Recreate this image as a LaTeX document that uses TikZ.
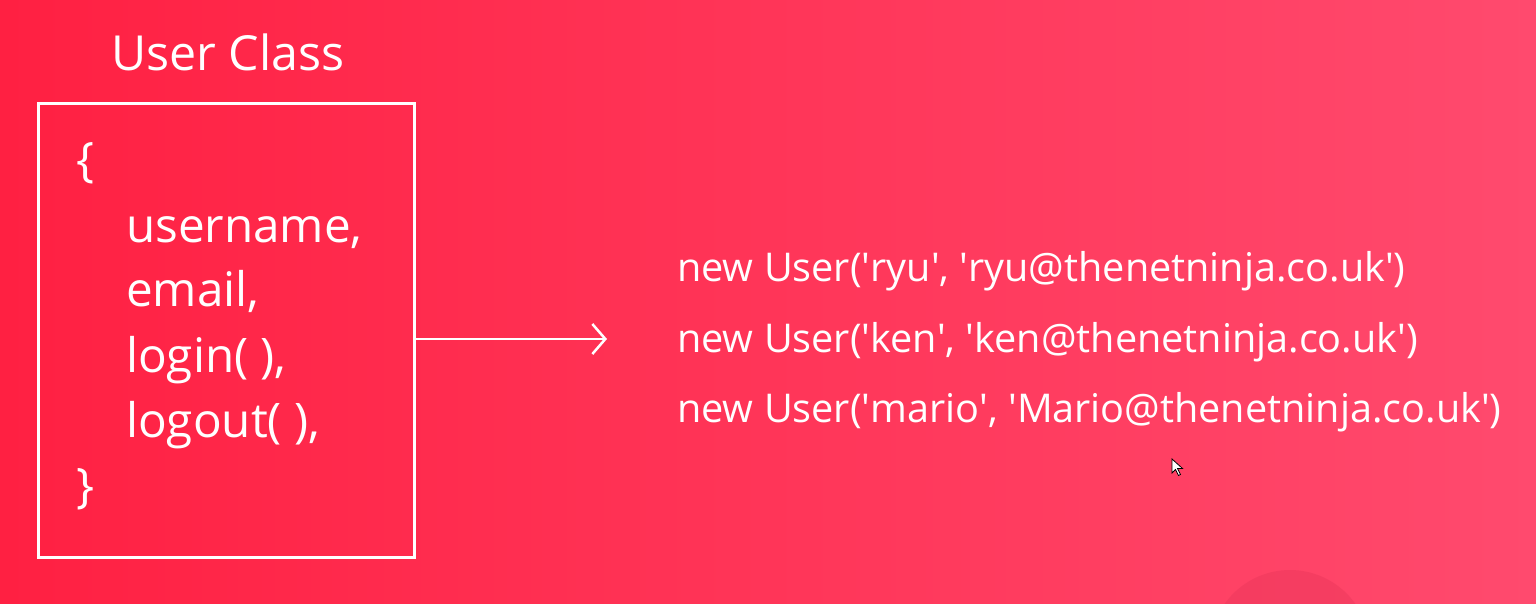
\documentclass[tikz,border=0pt]{standalone}
\usepackage{fontspec}
\setmainfont{Open Sans}
\usetikzlibrary{arrows.meta,calc}
\definecolor{bgleft}{RGB}{255,32,66}
\definecolor{bgright}{RGB}{255,74,110}
\definecolor{blob}{RGB}{236,56,92}
\newcommand{\q}{\textquotesingle}
\tikzset{
  lbl/.style={text=white, inner sep=0pt, anchor=base west},
  titletext/.style={lbl, font=\fontsize{48.3}{54}\selectfont},
  codetext/.style={lbl, font=\fontsize{47.6}{54}\selectfont},
  calltext/.style={lbl, font=\fontsize{39.6}{46}\selectfont},
  classbox/.style={draw=white, line width=3pt, minimum width=376pt, minimum height=454pt, anchor=north west, inner sep=0pt},
  conn/.style={draw=white, line width=2.5pt, -{Straight Barb[length=13pt,width=30pt,line width=2.5pt]}}
}
\begin{document}
\begin{tikzpicture}[x=1pt,y=-1pt]
\useasboundingbox (0,0) rectangle (1536,603);
\shade[shading angle=60, left color=bgleft, right color=bgright] (0,0) rectangle (1536,603);
\fill[blob, opacity=0.5] (1290,650) circle (80);
\node[titletext] (title) at (111,70) {User Class};
\node[classbox] (box) at (37,102) {};
\node[codetext] (ob) at (76,176) {\{};
\node[codetext] (l1) at (126,242) {username,};
\node[codetext] (l2) at (126,306) {email,};
\node[codetext] (l3) at (126,372) {login( ),};
\node[codetext] (l4) at (126,437) {logout( ),};
\node[codetext] (cb) at (76,502) {\}};
\node[calltext] (c1) at (677,281) {new User(\q ryu\q, \q ryu@thenetninja.co.uk\q)};
\node[calltext] (c2) at (677,352) {new User(\q ken\q, \q ken@thenetninja.co.uk\q)};
\node[calltext] (c3) at (677,422) {new User(\q mario\q, \q Mario@thenetninja.co.uk\q)};
\coordinate (tip) at (607,339);
\draw[conn] (box.east |- tip) -- (tip);
\coordinate (cursor) at (1172,459);
\filldraw[fill=white, draw=black, line width=0.8pt] (cursor) -- ++(0,14) -- ++(3.5,-3.5) -- ++(3,6) -- ++(2,-1) -- ++(-3,-6) -- ++(5,0) -- cycle;
\end{tikzpicture}
\end{document}
